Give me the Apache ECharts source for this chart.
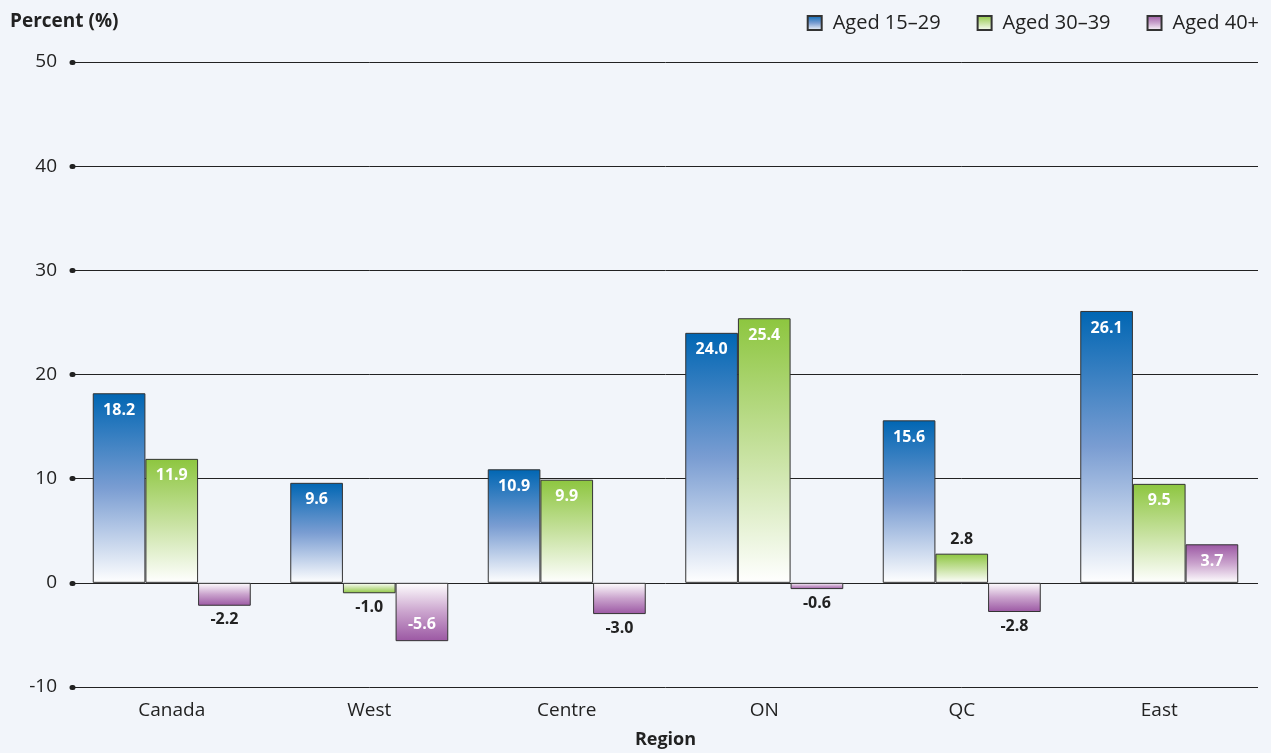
<!DOCTYPE html>
<html><head><meta charset="utf-8">
<script src="https://cdn.jsdelivr.net/npm/echarts@6/dist/echarts.min.js"></script>
<style>html,body{margin:0;padding:0;background:#f2f5fa}#c{width:1271px;height:753px}</style>
</head><body><div id="c"></div>
<script>
const categories = ['Canada','West','Centre','ON','QC','East'];
const aged15_29 = [18.2, 9.6, 10.9, 24.0, 15.6, 26.1];
const aged30_39 = [11.9, -1.0, 9.9, 25.4, 2.8, 9.5];
const aged40p = [-2.2, -5.6, -3.0, -0.6, -2.8, 3.7];
const seriesNames = ['Aged 15\u201329','Aged 30\u201339','Aged 40+'];
const yTicks = {min:-10, max:50, interval:10};

const FONT = '"Open Sans", sans-serif';
const palettes = [
  ['#0066b3','#7a9dd2'],
  ['#8dc63f','#c6e19e'],
  ['#9b57a3','#caa3cd']
];

function grad(p, neg){
  return new echarts.graphic.LinearGradient(0, neg?1:0, 0, neg?0:1, [
    {offset:0, color:p[0]}, {offset:0.5, color:p[1]}, {offset:1, color:'#ffffff'}
  ]);
}
function makeData(vals, p){
  return vals.map(v=>{
    const neg = v<0;
    const inside = Math.abs(v) > 3.5;
    return {
      value: v,
      itemStyle: {color: grad(p, neg)},
      label: {
        position: neg ? (inside?'insideBottom':'bottom') : (inside?'insideTop':'top'),
        color: inside ? '#ffffff' : '#222222',
        distance: inside ? 9 : 6
      }
    };
  });
}
const chart = echarts.init(document.getElementById('c'), null, {renderer:'canvas'});
const vals = [aged15_29, aged30_39, aged40p];
chart.setOption({
  backgroundColor:'#f2f5fa',
  animation:false,
  textStyle:{fontFamily:FONT},
  title:{text:'Percent (%)', left:5, top:7, textStyle:{fontFamily:FONT, fontSize:19, fontWeight:'bold', color:'#222'}},
  legend:{
    right:7, top:8, itemWidth:14, itemHeight:14, itemGap:36, icon:'rect',
    textStyle:{fontFamily:FONT, fontSize:20, color:'#222', padding:[0,0,0,6]},
    data: seriesNames
  },
  grid:{left:73, right:13, top:62, bottom:66, outerBoundsMode:'none', containLabel:false},
  xAxis:{
    type:'category', data:categories,
    name:'Region', nameLocation:'middle', nameGap:44,
    nameTextStyle:{fontFamily:FONT, fontSize:18, fontWeight:'bold', color:'#222'},
    axisLine:{show:false}, axisTick:{show:false},
    axisLabel:{fontFamily:FONT, fontSize:19, color:'#222', margin:14}
  },
  yAxis:{
    type:'value', min:yTicks.min, max:yTicks.max, interval:yTicks.interval,
    axisLine:{show:false},
    axisTick:{show:true, length:1, lineStyle:{width:5, cap:'round', color:'#222'}},
    axisLabel:{fontFamily:FONT, fontSize:19, color:'#222', margin:16},
    splitLine:{show:true, lineStyle:{color:'#222', width:1}}
  },
  series: seriesNames.map((n,i)=>({
    name:n, type:'bar', barGap:'0%', barCategoryGap:'20%',
    itemStyle:{color:grad(palettes[i], false), borderColor:'#333', borderWidth:1},
    label:{show:true, fontFamily:FONT, fontSize:16, fontWeight:'bold', formatter:p=>p.value.toFixed(1)},
    data: makeData(vals[i], palettes[i])
  }))
});
</script></body></html>
